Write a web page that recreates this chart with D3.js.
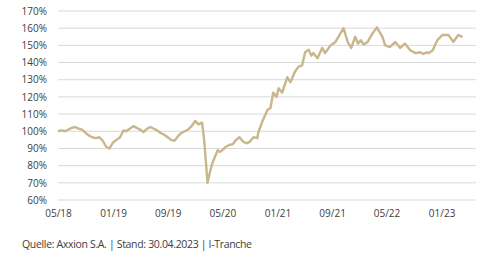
<!DOCTYPE html>
<html>
<head>
<meta charset="utf-8">
<script src="https://cdn.jsdelivr.net/npm/d3@7"></script>
<style>
  body { margin: 0; background: #fff; }
  text { font-family: "Open Sans", sans-serif; fill: #404040; }
</style>
</head>
<body>
<script>
// dates (positions relative to the month ticks)
const dates = [
  "2018-05-01","2018-05-16","2018-06-01","2018-06-16","2018-07-01","2018-07-16","2018-08-01","2018-08-16",
  "2018-09-01","2018-09-16","2018-10-01","2018-10-16","2018-11-01","2018-11-16","2018-12-01","2018-12-16",
  "2019-01-01","2019-01-16","2019-02-01","2019-02-16","2019-03-01","2019-03-16","2019-04-01","2019-04-16",
  "2019-05-01","2019-05-16","2019-06-01","2019-06-16","2019-07-01","2019-07-16","2019-08-01","2019-08-16",
  "2019-09-01","2019-09-16","2019-10-01","2019-10-16","2019-11-01","2019-11-16","2019-12-01","2019-12-16",
  "2020-01-01","2020-01-16","2020-02-01","2020-02-10","2020-02-19","2020-02-25","2020-03-01","2020-03-10",
  "2020-03-19","2020-04-01","2020-04-10","2020-04-19","2020-05-01","2020-05-16","2020-06-01","2020-06-16",
  "2020-07-01","2020-07-16","2020-08-01","2020-08-16","2020-09-01","2020-09-16","2020-10-04","2020-10-07",
  "2020-10-25","2020-11-18","2020-12-01","2020-12-13","2020-12-28","2021-01-06","2021-01-22","2021-02-14",
  "2021-02-28","2021-03-19","2021-04-04","2021-04-21","2021-05-04","2021-05-20","2021-06-01","2021-06-09",
  "2021-06-28","2021-07-19","2021-08-01","2021-08-25","2021-09-16","2021-10-22","2021-11-09","2021-11-25",
  "2021-12-13","2021-12-25","2022-01-06","2022-01-20","2022-02-06","2022-02-28","2022-03-19","2022-04-13",
  "2022-04-25","2022-05-16","2022-06-09","2022-07-01","2022-07-22","2022-08-16","2022-09-07","2022-09-28",
  "2022-10-12","2022-10-28","2022-11-05","2022-11-22","2022-12-13","2023-01-04","2023-02-01","2023-02-22",
  "2023-03-16","2023-04-04"
];
const values = [
  100, 100.5, 100, 101, 102, 102.5, 101.5, 101,
  99, 97.5, 96.5, 96, 96.5, 94.5, 91, 90,
  93.5, 95, 96.5, 100.5, 100, 101.5, 103, 102,
  101, 99.5, 101.5, 102.5, 101.5, 100.5, 99, 98,
  96.5, 95, 94.5, 97, 99, 100, 101, 103,
  106, 104, 105, 95, 80, 70, 73, 78,
  82, 86, 89, 88, 89, 91, 92, 92.5,
  95, 96.5, 94, 93, 94, 96.5, 96, 99,
  105.5, 112.5, 113.5, 122.5, 120, 125, 122.5, 131.5,
  128.5, 134.5, 137.5, 138.5, 146, 147.5, 144, 145.5,
  142.5, 148.5, 145.5, 150, 152, 160, 152, 148.5,
  155, 151, 153, 150.5, 152, 157, 160.5, 155,
  150, 149, 152, 148.5, 151, 147, 145.5, 146,
  145, 146, 145.5, 147, 153, 156, 156, 152,
  156, 155
];
const yTicks = [60, 70, 80, 90, 100, 110, 120, 130, 140, 150, 160, 170];
const xTickLabels = ["05/18", "01/19", "09/19", "05/20", "01/21", "09/21", "05/22", "01/23"];
const sourceText = "Quelle: Axxion S.A. | Stand: 30.04.2023 | I-Tranche";

const width = 495, height = 263;
const margin = { top: 11, right: 19, bottom: 63, left: 58 };

const parse = d3.timeParse("%Y-%m-%d");
const fmt = d3.timeFormat("%m/%y");
const data = dates.map((d, i) => ({ date: parse(d), value: values[i] }));
const xTickDates = xTickLabels.map(s => d3.timeParse("%m/%y")(s));

const svg = d3.select("body").append("svg")
  .attr("width", width)
  .attr("height", height);

// one month ~ 6.84px, so the axis runs a bit past the last tick
const x = d3.scaleTime()
  .domain([parse("2018-05-01"), parse("2023-06-03")])
  .range([margin.left, width - margin.right]);

const y = d3.scaleLinear()
  .domain([60, 170])
  .range([height - margin.bottom, margin.top]);

// horizontal gridlines
svg.append("g")
  .selectAll("line")
  .data(yTicks)
  .enter()
  .append("line")
  .attr("x1", margin.left)
  .attr("x2", width - margin.right)
  .attr("y1", d => y(d))
  .attr("y2", d => y(d))
  .attr("stroke", "#d9d9d9")
  .attr("stroke-width", 1);

// y axis labels
const yAxis = d3.axisLeft(y)
  .tickValues(yTicks)
  .tickFormat(d => d + "%")
  .tickSize(0)
  .tickPadding(11);
svg.append("g")
  .attr("transform", `translate(${margin.left},0)`)
  .call(yAxis)
  .call(g => g.select(".domain").remove())
  .selectAll("text")
  .style("font-size", "10px")
  .style("font-family", "'Open Sans', sans-serif")
  .attr("fill", "#404040");

// x axis labels
const xAxis = d3.axisBottom(x)
  .tickValues(xTickDates)
  .tickFormat(fmt)
  .tickSize(0)
  .tickPadding(10);
svg.append("g")
  .attr("transform", `translate(0,${height - margin.bottom})`)
  .call(xAxis)
  .call(g => g.select(".domain").remove())
  .selectAll("text")
  .style("font-size", "10px")
  .style("font-family", "'Open Sans', sans-serif")
  .attr("fill", "#404040");

// the line
const line = d3.line()
  .x(d => x(d.date))
  .y(d => y(d.value));

svg.append("path")
  .datum(data)
  .attr("fill", "none")
  .attr("stroke", "#c9b68a")
  .attr("stroke-width", 2.4)
  .attr("stroke-linejoin", "round")
  .attr("d", line);

// source note
svg.append("text")
  .attr("x", 22)
  .attr("y", 247.5)
  .attr("textLength", 230)
  .attr("lengthAdjust", "spacing")
  .style("font-size", "10.5px")
  .text(sourceText);
</script>
</body>
</html>
